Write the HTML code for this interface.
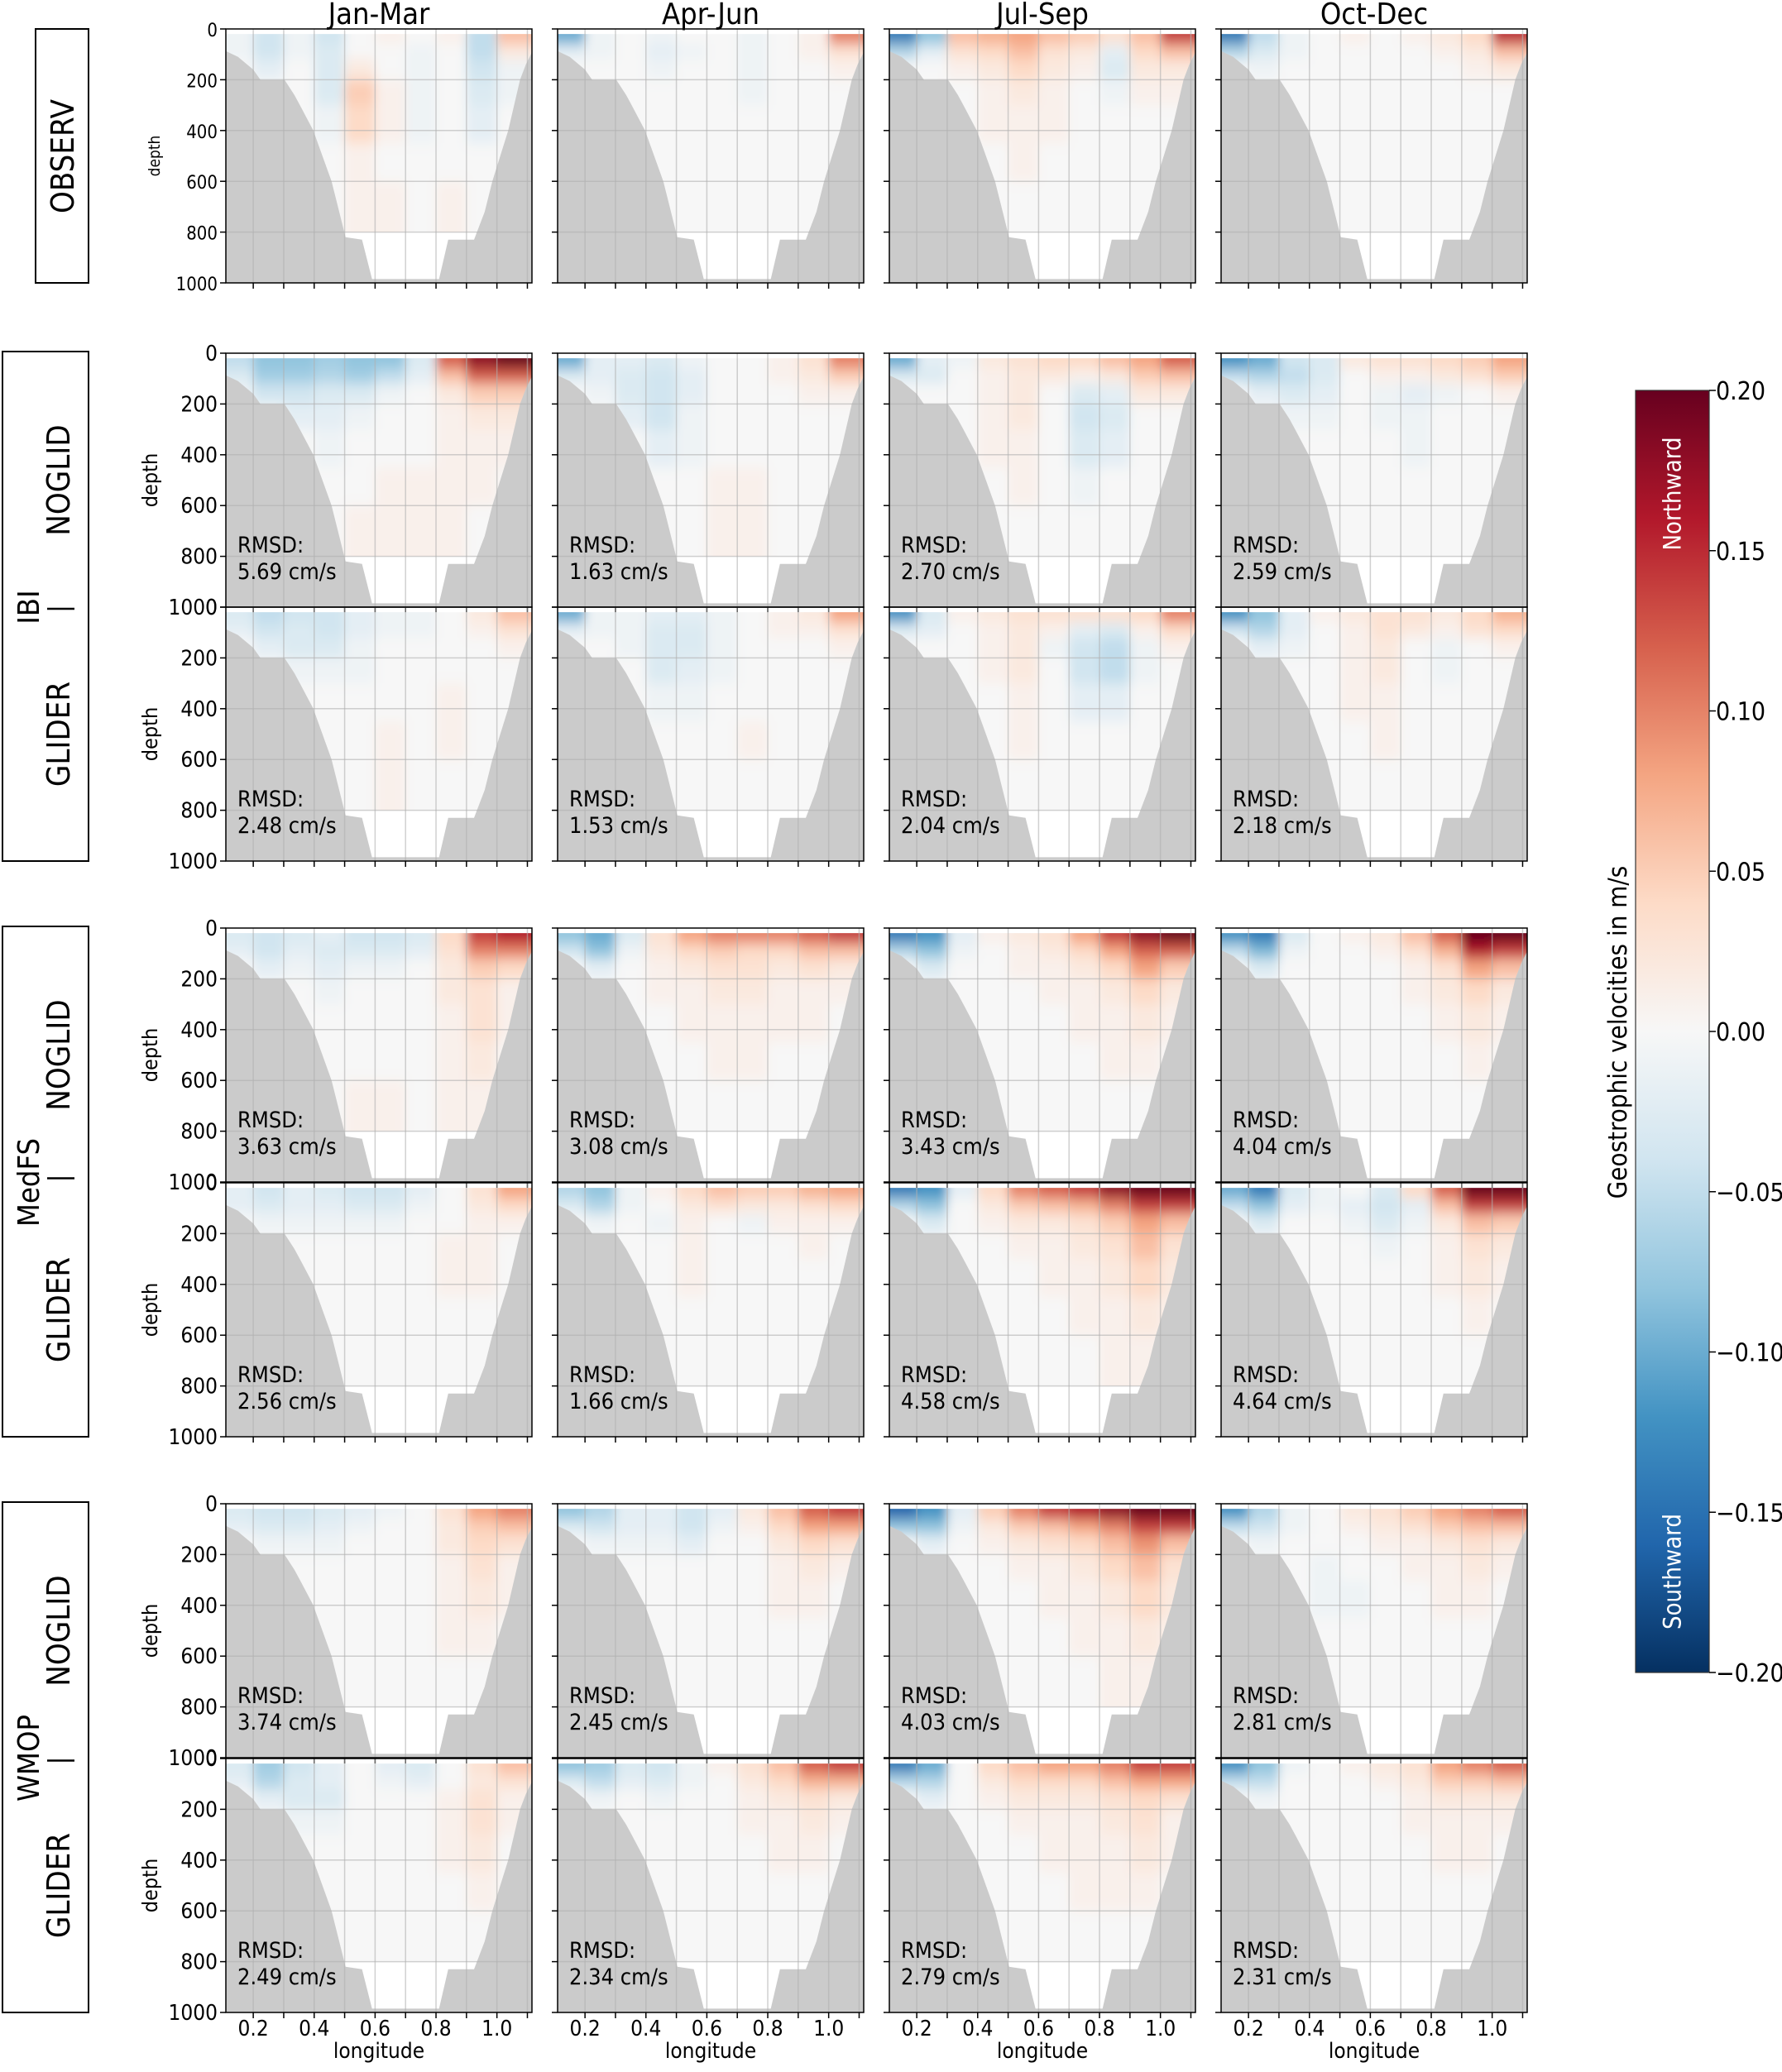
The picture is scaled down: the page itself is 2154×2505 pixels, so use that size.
<!DOCTYPE html>
<html><head><meta charset="utf-8"><style>
html,body{margin:0;padding:0;background:#fff;}
svg text{font-family:"DejaVu Sans Condensed","DejaVu Sans","Liberation Sans",sans-serif;fill:#000;}
</style></head><body>
<svg id="fig" xmlns="http://www.w3.org/2000/svg" width="2154" height="2500" viewBox="0 0 2154 2500">
<defs>
<filter id="bl" x="-5%" y="-5%" width="110%" height="110%"><feGaussianBlur stdDeviation="6 8"/></filter>
<linearGradient id="cbg" x1="0" y1="1" x2="0" y2="0">
<stop offset="0" stop-color="#053061"/><stop offset="0.1" stop-color="#2166ac"/><stop offset="0.2" stop-color="#4393c3"/><stop offset="0.3" stop-color="#92c5de"/><stop offset="0.4" stop-color="#d1e5f0"/><stop offset="0.5" stop-color="#f7f7f7"/><stop offset="0.6" stop-color="#fddbc7"/><stop offset="0.7" stop-color="#f4a582"/><stop offset="0.8" stop-color="#d6604d"/><stop offset="0.9" stop-color="#b2182b"/><stop offset="1" stop-color="#67001f"/>
</linearGradient>
</defs>
</svg>
<script>
// ---- chart data (values in cm/s) ----
const seasons = ["Jan-Mar","Apr-Jun","Jul-Sep","Oct-Dec"];
const rowNames = ["OBSERV","IBI NOGLID","IBI GLIDER","MedFS NOGLID","MedFS GLIDER","WMOP NOGLID","WMOP GLIDER"];
const lonEdges = [0.1,0.2,0.3,0.4,0.5,0.6,0.7,0.8,0.9,1.0,1.1];
const depthEdges = [20,60,120,200,300,450,600,800];
const xTicks = [0.2,0.4,0.6,0.8,1.0];
const yTicks = [0,200,400,600,800,1000];
const cbTicks = [0.20,0.15,0.10,0.05,0.00,-0.05,-0.10,-0.15,-0.20];
const rmsd = [
 null,
 ["5.69","1.63","2.70","2.59"],
 ["2.48","1.53","2.04","2.18"],
 ["3.63","3.08","3.43","4.04"],
 ["2.56","1.66","4.58","4.64"],
 ["3.74","2.45","4.03","2.81"],
 ["2.49","2.34","2.79","2.31"]
];
const obsJan=[[-1,-4,-1,-4,0,1,0,1,-5,6],[-1,-4,-1,-3,0,0,-1,0,-5,2],[0,-2,0,-3,2,0,-1,0,-4,-1],[0,0,0,-3,5,1,-1,0,-3,-1],[0,0,0,-1,4,1,-1,0,-2,0],[0,0,0,0,1,0,0,0,0,0],[0,0,0,0,1,1,0,1,0,0]];
const obsApr=[[-10,-1,0,-1,0,0,-1,0,1,10],[-2,-1,0,-2,-1,0,-1,0,1,3],[0,0,0,-1,0,0,-1,0,0,1],[0,0,0,0,0,0,-1,0,0,0],[0,0,0,0,0,0,0,0,0,0],[0,0,0,0,0,0,0,0,0,0],[0,0,0,0,0,0,0,0,0,0]];
const obsJul=[[-14,-8,6,7,8,6,5,3,6,14],[-6,-2,3,4,6,3,2,-2,4,6],[0,0,1,2,4,2,1,-3,2,2],[0,0,0,1,2,1,0,-1,1,1],[0,0,0,1,1,1,0,0,0,0],[0,0,0,0,1,0,0,0,0,0],[0,0,0,0,0,0,0,0,0,0]];
const obsOct=[[-14,-5,-1,0,1,0,1,2,4,15],[-6,-3,-1,0,0,0,0,1,2,6],[0,-1,0,0,0,0,0,0,1,2],[0,0,0,0,0,0,0,0,0,0],[0,0,0,0,0,0,0,0,0,0],[0,0,0,0,0,0,0,0,0,0],[0,0,0,0,0,0,0,0,0,0]];
const ibiNJan=[[-5,-8,-8,-7,-8,-8,-3,12,18,20],[-3,-7,-7,-6,-7,-5,-2,6,12,12],[-1,-4,-4,-3,-3,-1,0,2,5,5],[0,0,-2,-2,-1,0,0,1,2,2],[0,0,0,-1,0,0,0,1,1,1],[0,0,0,0,0,1,1,1,1,0],[0,0,0,0,1,1,1,1,0,0]];
const ibiNApr=[[-10,-2,-2,-3,-1,0,0,1,3,10],[-3,-2,-3,-4,-2,0,0,1,2,5],[0,-1,-3,-4,-2,0,0,0,1,1],[0,0,-2,-4,-1,0,0,0,0,0],[0,0,0,-2,-1,0,0,0,0,0],[0,0,0,0,0,1,1,0,0,0],[0,0,0,0,0,1,1,0,0,0]];
const ibiNJul=[[-10,-2,-1,2,3,4,4,6,8,12],[-3,-3,0,1,2,2,1,2,5,6],[0,0,0,1,2,0,-3,-2,2,2],[0,0,0,1,2,0,-4,-3,0,0],[0,0,0,1,1,0,-3,-2,0,0],[0,0,0,0,1,0,-1,0,0,0],[0,0,0,0,0,0,0,0,0,0]];
const ibiNOct=[[-12,-10,-4,-3,2,3,3,4,5,8],[-5,-6,-5,-3,0,1,1,2,3,5],[0,-2,-3,-2,0,-1,-2,-1,0,1],[0,0,-1,-1,0,-1,-1,0,0,0],[0,0,0,0,0,0,-1,0,0,0],[0,0,0,0,0,0,0,0,0,0],[0,0,0,0,0,0,0,0,0,0]];
const ibiGJan=[[-3,-5,-4,-4,-2,-1,-1,0,2,6],[-2,-4,-3,-4,-2,-1,-1,0,1,3],[0,-2,-3,-3,-1,0,0,0,0,1],[0,0,-1,-1,-1,0,0,0,0,0],[0,0,0,0,0,0,0,1,0,0],[0,0,0,0,0,1,0,1,0,0],[0,0,0,0,0,1,0,0,0,0]];
const ibiGApr=[[-10,-1,-1,-2,-2,-1,0,1,2,8],[-2,-1,-1,-3,-3,-1,0,1,1,3],[0,0,-1,-3,-3,-1,0,0,0,1],[0,0,0,-3,-2,-1,0,0,0,0],[0,0,0,-1,-1,0,0,0,0,0],[0,0,0,0,0,0,1,0,0,0],[0,0,0,0,0,0,0,0,0,0]];
const ibiGJul=[[-12,-3,1,2,3,3,3,3,4,10],[-3,-2,0,1,2,1,-2,-3,1,4],[0,0,0,1,2,-1,-4,-5,-1,1],[0,0,0,1,2,0,-4,-5,-1,0],[0,0,0,0,1,0,-2,-2,0,0],[0,0,0,0,1,0,0,0,0,0],[0,0,0,0,0,0,0,0,0,0]];
const ibiGOct=[[-12,-8,-2,1,2,3,3,2,4,7],[-4,-6,-2,0,1,3,2,1,3,4],[0,-2,-1,0,1,2,0,-1,0,1],[0,0,0,0,1,2,0,-1,0,0],[0,0,0,0,1,1,0,0,0,0],[0,0,0,0,0,1,0,0,0,0],[0,0,0,0,0,0,0,0,0,0]];
const medNJan=[[-3,-4,-3,-2,-4,-4,-3,4,14,16],[-2,-4,-2,-3,-3,-3,-2,3,10,10],[0,-2,-1,-2,-1,-1,0,2,5,4],[0,0,0,-1,0,0,0,2,3,1],[0,0,0,0,0,0,0,1,3,1],[0,0,0,0,0,0,0,1,2,0],[0,0,0,0,1,1,0,1,1,0]];
const medNApr=[[-8,-10,-3,3,8,10,10,10,12,14],[-4,-8,-1,2,4,5,4,4,6,6],[0,-2,0,1,2,3,3,2,3,2],[0,0,0,1,1,2,2,1,1,1],[0,0,0,0,1,1,1,1,1,0],[0,0,0,0,0,1,1,0,0,0],[0,0,0,0,0,0,0,0,0,0]];
const medNJul=[[-14,-12,-2,1,2,3,8,14,18,20],[-6,-8,-1,0,1,2,4,8,12,12],[0,-3,0,0,1,1,2,4,8,5],[0,0,0,0,0,1,1,2,4,2],[0,0,0,0,0,0,1,1,2,1],[0,0,0,0,0,0,0,1,1,0],[0,0,0,0,0,0,0,0,0,0]];
const medNOct=[[-12,-14,-3,0,1,2,6,12,20,20],[-5,-9,-1,0,0,1,3,7,16,14],[0,-3,0,0,0,0,1,3,8,6],[0,0,0,0,0,0,1,2,4,2],[0,0,0,0,0,0,0,1,2,1],[0,0,0,0,0,0,0,0,1,0],[0,0,0,0,0,0,0,0,0,0]];
const medGJan=[[-2,-4,-2,-3,-4,-4,-2,0,3,8],[-2,-3,-2,-2,-3,-3,-1,0,2,4],[0,-1,-1,-1,-1,-1,0,0,1,1],[0,0,0,0,0,0,0,1,1,0],[0,0,0,0,0,0,0,1,1,0],[0,0,0,0,0,0,0,0,0,0],[0,0,0,0,0,0,0,0,0,0]];
const medGApr=[[-6,-8,-1,1,4,6,5,5,7,8],[-3,-6,-1,0,2,3,2,2,3,4],[0,-1,0,-1,1,0,-1,1,1,1],[0,0,0,0,1,0,0,0,1,0],[0,0,0,0,1,0,0,0,0,0],[0,0,0,0,0,0,0,0,0,0],[0,0,0,0,0,0,0,0,0,0]];
const medGJul=[[-14,-12,-2,4,10,12,14,18,20,20],[-6,-8,0,2,5,6,7,10,14,14],[0,-3,0,1,2,2,3,5,8,6],[0,0,0,0,1,1,2,3,6,3],[0,0,0,0,0,1,1,2,4,2],[0,0,0,0,0,0,1,1,2,1],[0,0,0,0,0,0,0,1,1,0]];
const medGOct=[[-10,-14,-3,-1,0,-3,4,12,20,20],[-5,-8,-2,-1,-2,-4,-2,6,14,14],[0,-3,0,0,-1,-3,-1,2,6,5],[0,0,0,0,0,-1,0,1,3,2],[0,0,0,0,0,0,0,1,2,1],[0,0,0,0,0,0,0,0,1,0],[0,0,0,0,0,0,0,0,0,0]];
const wmoNJan=[[-3,-4,-4,-3,-2,-1,0,3,8,10],[-2,-3,-3,-2,-1,0,0,2,5,6],[0,-1,-1,-1,0,0,0,2,4,3],[0,0,0,0,0,0,0,1,3,1],[0,0,0,0,0,0,0,1,2,1],[0,0,0,0,0,0,0,1,1,0],[0,0,0,0,0,0,0,0,0,0]];
const wmoNApr=[[-8,-6,-2,-2,-4,-2,2,6,12,14],[-3,-4,-2,-2,-4,-1,1,4,8,8],[0,-1,-1,-1,-2,0,0,2,4,3],[0,0,0,0,0,0,0,1,2,1],[0,0,0,0,0,0,0,1,1,0],[0,0,0,0,0,0,0,0,0,0],[0,0,0,0,0,0,0,0,0,0]];
const wmoNJul=[[-16,-12,-2,5,10,14,16,18,20,20],[-8,-8,-1,2,5,6,8,10,14,14],[0,-2,0,1,2,3,4,6,9,6],[0,0,0,0,1,1,2,4,6,3],[0,0,0,0,0,1,1,2,4,2],[0,0,0,0,0,0,1,1,2,1],[0,0,0,0,0,0,0,1,1,0]];
const wmoNOct=[[-12,-6,-1,0,2,3,5,8,10,12],[-5,-4,-1,0,1,2,3,5,6,6],[0,-1,0,0,0,1,1,2,3,2],[0,0,0,-1,0,0,1,1,2,1],[0,0,0,-1,-1,0,0,1,1,0],[0,0,0,0,0,0,0,0,0,0],[0,0,0,0,0,0,0,0,0,0]];
const wmoGJan=[[-3,-7,-4,-2,0,-2,-3,0,3,6],[-2,-6,-3,-2,0,-1,-2,0,2,3],[0,-2,-3,-3,0,0,0,1,3,1],[0,0,-1,-1,0,0,0,1,3,1],[0,0,0,0,0,0,0,1,2,0],[0,0,0,0,0,0,0,0,1,0],[0,0,0,0,0,0,0,0,0,0]];
const wmoGApr=[[-8,-7,-3,-4,-1,1,3,6,12,14],[-3,-5,-2,-3,-1,0,2,4,7,7],[0,-1,0,-1,0,0,1,2,3,2],[0,0,0,0,0,0,1,1,2,1],[0,0,0,0,0,0,0,1,1,0],[0,0,0,0,0,0,0,0,0,0],[0,0,0,0,0,0,0,0,0,0]];
const wmoGJul=[[-14,-10,0,4,6,8,8,10,14,14],[-6,-6,0,2,4,4,4,6,8,8],[0,-2,0,1,2,2,2,3,4,3],[0,0,0,0,1,1,1,2,3,1],[0,0,0,0,0,1,1,1,2,1],[0,0,0,0,0,0,1,1,1,0],[0,0,0,0,0,0,0,0,0,0]];
const wmoGOct=[[-12,-8,-1,0,1,2,3,8,10,12],[-5,-5,0,0,0,1,2,5,5,6],[0,-1,0,0,0,0,1,2,2,2],[0,0,0,0,0,0,1,1,1,1],[0,0,0,0,0,0,0,1,1,0],[0,0,0,0,0,0,0,0,0,0],[0,0,0,0,0,0,0,0,0,0]];
const fields = [
 [obsJan,obsApr,obsJul,obsOct],
 [ibiNJan,ibiNApr,ibiNJul,ibiNOct],
 [ibiGJan,ibiGApr,ibiGJul,ibiGOct],
 [medNJan,medNApr,medNJul,medNOct],
 [medGJan,medGApr,medGJul,medGOct],
 [wmoNJan,wmoNApr,wmoNJul,wmoNOct],
 [wmoGJan,wmoGApr,wmoGJul,wmoGOct]
];
// bathymetry outline (lon, depth)
const bathyLon = [0.11,0.15,0.2,0.224,0.303,0.335,0.353,0.397,0.457,0.503,0.557,0.59,0.81,0.84,0.925,0.96,0.985,1.037,1.076,1.095,1.115,1.115,0.11];
const bathyDepth=[87,110,160,201,201,260,300,400,600,820,830,985,985,830,830,720,600,400,200,140,92,1000,1000];

// ---- layout ----
const NS="http://www.w3.org/2000/svg";
const svg=document.getElementById('fig');
const colX=[273,674,1075,1476], PW=370, PH=307;
const rowY=[35,427,734,1122,1430,1818,2126];
const XMIN=0.11, XMAX=1.115;
function mk(tag,attrs,parent){const e=document.createElementNS(NS,tag);for(const k in attrs)e.setAttribute(k,attrs[k]);(parent||svg).appendChild(e);return e;}
const stops=["#053061","#2166ac","#4393c3","#92c5de","#d1e5f0","#f7f7f7","#fddbc7","#f4a582","#d6604d","#b2182b","#67001f"];
function hex(c){return [parseInt(c.slice(1,3),16),parseInt(c.slice(3,5),16),parseInt(c.slice(5,7),16)];}
function cmap(v){let t=(v+0.2)/0.4;t=Math.max(0,Math.min(1,t))*10;const i=Math.min(9,Math.floor(t)),f=t-i;const a=hex(stops[i]),b=hex(stops[i+1]);return `rgb(${a.map((x,k)=>Math.round(x+(b[k]-x)*f)).join(',')})`;}

for(let r=0;r<7;r++){for(let c=0;c<4;c++){
 const x0=colX[c], y0=rowY[r];
 const sx=v=>x0+(v-XMIN)/(XMAX-XMIN)*PW;
 const sy=d=>y0+d/1000*PH;
 const g=mk('g',{});
 
 
 const cid=`clip${r}_${c}`;
 const cp=mk('clipPath',{id:cid},g);
 mk('rect',{x:x0,y:sy(20),width:PW,height:sy(800)-sy(20)},cp);
 const hg=mk('g',{'clip-path':`url(#${cid})`},g);
 const bg=mk('g',{filter:'url(#bl)'},hg);
 const F=fields[r][c];
 for(let i=0;i<F.length;i++)for(let j=0;j<F[i].length;j++){
   let xa=sx(lonEdges[j]),xb=sx(lonEdges[j+1]),ya=sy(depthEdges[i]),yb=sy(depthEdges[i+1]);
   if(j===0)xa-=40; if(j===F[i].length-1)xb+=40; if(i===0)ya-=40; if(i===F.length-1)yb+=40;
   const cell=mk('rect',{x:xa,y:ya,width:xb-xa+0.5,height:yb-ya+0.5,fill:cmap(F[i][j]/100)},bg);
   
   
 }
 const pts=bathyLon.map((l,k)=>`${sx(Math.min(l,XMAX)).toFixed(1)},${sy(bathyDepth[k]).toFixed(1)}`).join(' ');
 const bp=mk('polygon',{points:pts,fill:'#cbcbcb'},g);
 
 
 for(let k=2;k<=11;k++){const v=k/10;if(v<=XMIN||v>=XMAX)continue;mk('line',{x1:sx(v),x2:sx(v),y1:y0,y2:y0+PH,stroke:'#b0b0b0','stroke-opacity':0.6,'stroke-width':1.5},g);
   mk('line',{x1:sx(v),x2:sx(v),y1:y0+PH,y2:y0+PH+7,stroke:'#000','stroke-width':1.5},g);}
 yTicks.forEach(d=>{if(d>0&&d<1000)mk('line',{x1:x0,x2:x0+PW,y1:sy(d),y2:sy(d),stroke:'#b0b0b0','stroke-opacity':0.6,'stroke-width':1.5},g);
   mk('line',{x1:x0-7,x2:x0,y1:sy(d),y2:sy(d),stroke:'#000','stroke-width':1.5},g);});
 const fr=mk('rect',{x:x0,y:y0,width:PW,height:PH,fill:'none',stroke:'#000','stroke-width':1.5},g);
 
 
 if(c===0){
   yTicks.forEach(d=>{const t=mk('text',{x:x0-10,y:sy(d)+9,'text-anchor':'end','font-size':r===0?22:26},g);t.textContent=d;
     });
   const yl=mk('text',{x:0,y:0,'text-anchor':'middle','font-size':r===0?19:25,transform:`translate(${r===0?193:190},${y0+PH/2}) rotate(-90)`},g);
   yl.textContent='depth';
   
 }
 if(r===6){
   xTicks.forEach(v=>{const t=mk('text',{x:sx(v),y:y0+PH+28,'text-anchor':'middle','font-size':26},g);t.textContent=v.toFixed(1);
     });
   const xl=mk('text',{x:x0+PW/2,y:y0+PH+55,'text-anchor':'middle','font-size':26},g);xl.textContent='longitude';
   
 }
 if(r===0){const t=mk('text',{x:x0+PW/2,y:29,'text-anchor':'middle','font-size':36},g);t.textContent=seasons[c];
   }
 if(rmsd[r]){
   const t1=mk('text',{x:x0+14,y:y0+241,'font-size':27},g);t1.textContent='RMSD:';
   
   const t2=mk('text',{x:x0+14,y:y0+273,'font-size':27},g);t2.textContent=rmsd[r][c]+' cm/s';
   
 }
}}

function box(x,y,w,h,name){const b=mk('rect',{x:x,y:y,width:w,height:h,fill:'none',stroke:'#000','stroke-width':2});}
function vtext(x,y,s,fs,name){const t=mk('text',{x:0,y:0,'text-anchor':'middle','font-size':fs,transform:`translate(${x},${y}) rotate(-90)`});t.textContent=s;return t;}
box(43,35,64,307,'observ-label-box');
vtext(89,189,'OBSERV',38,'row-label-observ');
const groups=[['IBI',1],['MedFS',3],['WMOP',5]];
groups.forEach(([nm,ri])=>{
  const top=rowY[ri]-2, bot=rowY[ri+1]+PH;
  box(3,top,104,bot-top,nm.toLowerCase()+'-label-box');
  vtext(84,rowY[ri]+PH/2,'NOGLID',38,'row-label-noglid');
  vtext(84,rowY[ri+1]+PH/2,'GLIDER',38,'row-label-glider');
  const mid=(rowY[ri]+PH+rowY[ri+1])/2;
  vtext(47,mid,nm,36,'model-label-'+nm.toLowerCase());
  const ly=mid+(nm==='IBI'?2:nm==='MedFS'?-5:3);
  mk('line',{x1:57,x2:90,y1:ly,y2:ly,stroke:'#000','stroke-width':2.5});
});

const CBX=1977,CBY=472,CBW=89,CBH=1550;
const cb=mk('rect',{x:CBX,y:CBY,width:CBW,height:CBH,fill:'url(#cbg)',stroke:'#333','stroke-width':1.2});

cbTicks.forEach(v=>{const y=CBY+(0.2-v)/0.4*CBH;
  mk('line',{x1:CBX+CBW,x2:CBX+CBW+8,y1:y,y2:y,stroke:'#000','stroke-width':1.5});
  const t=mk('text',{x:CBX+CBW+8,y:y+11,'font-size':30});t.textContent=(v<0?'\u2212':'')+Math.abs(v).toFixed(2);
  });
const nw=vtext(CBX+CBW/2+10,597,'Northward',29,'northward-label');nw.style.fill='#fff';
const sw=vtext(CBX+CBW/2+10,1900,'Southward',29,'southward-label');sw.style.fill='#fff';
vtext(1966,1248,'Geostrophic velocities in m/s',31,'colorbar-title');
</script>
</body></html>
